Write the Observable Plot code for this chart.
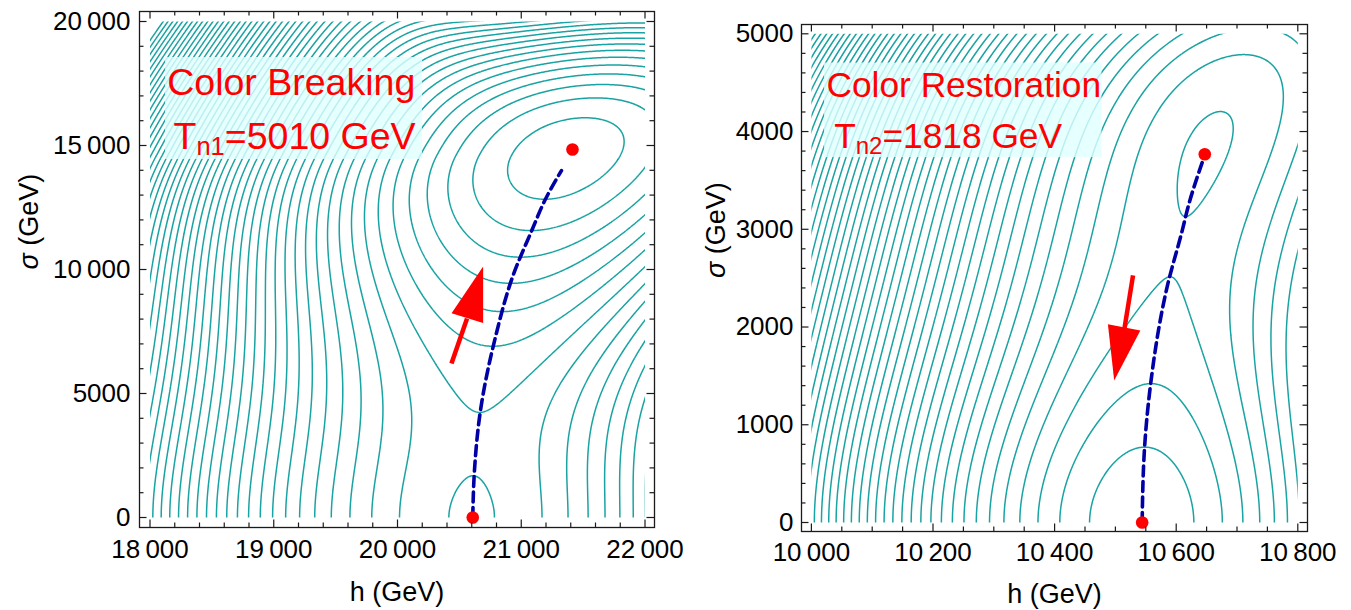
<!DOCTYPE html>
<html><head><meta charset="utf-8">
<script src="https://cdn.jsdelivr.net/npm/d3@7"></script>
<script src="https://cdn.jsdelivr.net/npm/@observablehq/plot@0.6"></script>
<style>
html,body{margin:0;padding:0;background:#fff;}
#wrap{position:relative;width:1351px;height:610px;overflow:hidden;background:#fff;}
#left{position:absolute;left:0;top:0;z-index:2;}
#right{position:absolute;left:680px;top:0;z-index:1;}
svg text{font-family:'Liberation Sans',Arial,Helvetica,sans-serif;}
</style></head><body><div id="wrap"><div id="left"></div><div id="right"></div></div>
<script>
// ---------------- data ----------------
// Left panel (Color Breaking)
const leftHDomain = [18000, 22000];
const leftSigmaDomain = [0, 20000];
const leftHTicks = [18000, 19000, 20000, 21000, 22000];
const leftSigmaTicks = [0, 5000, 10000, 15000, 20000];
const leftMinima = [{h: 20608, sigma: 0}, {h: 21414, sigma: 14840}];
const leftPath = [[20608, 0], [20622, 1900], [20670, 4300], [20785, 7140], [20940, 9840], [21085, 11570], [21190, 12780], [21325, 13990]];
const leftArrow = [{h1: 20436, s1: 6210, h2: 20562, s2: 8024, hTip: 20692, sTip: 10121, angle: 17}];
const leftBox = [{h1: 18125, h2: 20202, s1: 14435, s2: 18548}];
const leftTexts = [
  {h: 18139, sigma: 17056, text: "Color Breaking"},
  {h: 18190, sigma: 14879, text: "T_n1=5010 GeV"}
];
// left potential model (minimum positions / level spacing)
const leftCenter = [20600, 1000, 10000];        // h0, h unit, sigma unit
const leftShape = [0.357, 0.2977, 0.0478, 0.00372, 0.6]; // valley shear, curvature, cubic, quartic, decay
const leftProfile = [30, 0.31, 1.46];            // scale, saddle, second minimum (sigma units)
const leftWall = [-0.2, 0.35];
const leftLevels = d3.range(-6, 46).map(k => 0.114 + k);

// Right panel (Color Restoration)
const rightHDomain = [10000, 10800];
const rightSigmaDomain = [0, 5000];
const rightHTicks = [10000, 10200, 10400, 10600, 10800];
const rightSigmaTicks = [0, 1000, 2000, 3000, 4000, 5000];
const rightMinima = [{h: 10544, sigma: 0}, {h: 10647, sigma: 3767}];
const rightPath = [[10544, 0], [10548, 771], [10558, 1420], [10585, 2408], [10610, 2989], [10621, 3262], [10644, 3705]];
const rightArrow = [{h1: 10529, s1: 2528, h2: 10515, s2: 1988, hTip: 10498, sTip: 1453, angle: 190.6}];
const rightBox = [{h1: 10021.5, h2: 10478, s1: 3733, s2: 4701}];
const rightTexts = [
  {h: 10024.8, sigma: 4353, text: "Color Restoration"},
  {h: 10037.5, sigma: 3828, text: "T_n2=1818 GeV"}
];
const rightCenter = [10544, 100, 1000];
const rightShape = [0.0729, 1.05, 0.02];
const rightProfile = [0.312, 2.8, 3.8];
const rightLevels = d3.range(0, 47).map(k => 0.70 + k);

// ---------------- styles ----------------
const TEAL = "#1aa3a3";
const NAVY = "#0000a6";
const RED = "#ff0000";
const INK = "#1a1a1a";

function profile(s, K, a, b) {
  return K * (s ** 4 / 4 - (a + b) * s ** 3 / 3 + a * b * s * s / 2);
}
function leftField(h, sig) {
  const u = (h - leftCenter[0]) / leftCenter[1], s = Math.abs(sig) / leftCenter[2];
  const d = u - leftShape[0] * s * s;
  const e = Math.exp(-s * s / leftShape[4]);
  const Q = (d * d + e * (leftShape[2] * d ** 3 + leftShape[3] * d ** 4)) / leftShape[1];
  const [K, a, b] = leftProfile;
  let P;
  if (s <= b) P = profile(s, K, a, b);
  else {
    const w = 1 / (1 + Math.exp(-(u - leftWall[0]) / leftWall[1]));
    const pb = profile(b, K, a, b);
    P = pb + w * (profile(s, K, a, b) - pb);
  }
  return Q + P;
}
function rightField(h, sig) {
  const u = (h - rightCenter[0]) / rightCenter[1], s = Math.abs(sig) / rightCenter[2];
  const d = u - rightShape[0] * s * s;
  const Q = d * d * (1 + rightShape[2] * d) / rightShape[1];
  const [K, a, b] = rightProfile;
  return Q + profile(s, K, a, b);
}

function fmt(n) {
  return n >= 10000 ? d3.format(",")(n).replace(",", "\u2009") : String(n);
}
function headSymbol(angleDeg, L, W) {
  const t = angleDeg * Math.PI / 180;
  const vx = Math.sin(t), vy = -Math.cos(t);
  const nx = Math.cos(t), ny = Math.sin(t);
  return {
    draw(ctx) {
      ctx.moveTo(0, 0);
      ctx.lineTo(-L * vx + W * nx, -L * vy + W * ny);
      ctx.lineTo(-L * vx - W * nx, -L * vy - W * ny);
      ctx.closePath();
    }
  };
}

function panel(o) {
  const fw = o.width - o.ml - o.mr, fh = o.height - o.mt - o.mb;
  const minorX = d3.range(o.xDomain[0], o.xDomain[1] + 1e-6, o.minorXStep).filter(v => !o.xTicks.includes(v));
  const minorY = d3.range(o.yDomain[0], o.yDomain[1] + 1e-6, o.minorYStep).filter(v => !o.yTicks.includes(v));
  const tk = {stroke: INK, strokeWidth: 1.2};
  const ex = (o.xDomain[1] - o.xDomain[0]) * 0.015, ey = (o.yDomain[1] - o.yDomain[0]) * 0.015;
  const svg = Plot.plot({
    width: o.width, height: o.height,
    marginLeft: o.ml, marginRight: o.mr, marginTop: o.mt, marginBottom: o.mb,
    insetLeft: o.inset[0], insetRight: o.inset[1], insetTop: o.inset[2], insetBottom: o.inset[3],
    x: {domain: o.xDomain, axis: null},
    y: {domain: o.yDomain, axis: null},
    style: {fontFamily: "'Liberation Sans', Arial, sans-serif", background: "transparent", overflow: "visible"},
    marks: [
      Plot.contour({
        value: o.field,
        x1: o.xDomain[0] - ex, x2: o.xDomain[1] + ex, y1: o.yDomain[0] - ey, y2: o.yDomain[1] + ey,
        thresholds: o.levels, pixelSize: 1,
        fill: "none", stroke: TEAL, strokeWidth: 1.5
      }),
      Plot.rect(o.box, {x1: "h1", x2: "h2", y1: "s1", y2: "s2", fill: "#e0ffff", fillOpacity: 0.82}),
      Plot.line(o.path, {x: d => d[0], y: d => d[1], stroke: NAVY, strokeWidth: 3.6, strokeDasharray: "10,5.5", curve: "monotone-y"}),
      Plot.link(o.arrow, {x1: "h1", y1: "s1", x2: "h2", y2: "s2", stroke: RED, strokeWidth: 4.5}),
      Plot.dot(o.arrow, {x: "hTip", y: "sTip", symbol: headSymbol(o.arrow[0].angle, 54, 16.5), r: 10, fill: RED, stroke: "none"}),
      Plot.dot(o.minima, {x: "h", y: "sigma", r: 6.3, fill: RED, stroke: "none"}),
      Plot.text(o.texts, {x: "h", y: "sigma", text: "text", textAnchor: "start", lineAnchor: "bottom", fontSize: o.titleSize, fill: RED}),
      Plot.frame({stroke: INK, strokeWidth: 1.3}),
      // ticks on all four sides, pointing inward
      Plot.tickX(o.xTicks, {x: d => d, insetTop: fh - 7.5, ...tk}),
      Plot.tickX(o.xTicks, {x: d => d, insetBottom: fh - 7.5, ...tk}),
      Plot.tickX(minorX, {x: d => d, insetTop: fh - 4.5, ...tk}),
      Plot.tickX(minorX, {x: d => d, insetBottom: fh - 4.5, ...tk}),
      Plot.tickY(o.yTicks, {y: d => d, insetRight: fw - 7.5, ...tk}),
      Plot.tickY(o.yTicks, {y: d => d, insetLeft: fw - 7.5, ...tk}),
      Plot.tickY(minorY, {y: d => d, insetRight: fw - 4.5, ...tk}),
      Plot.tickY(minorY, {y: d => d, insetLeft: fw - 4.5, ...tk}),
      // tick labels
      Plot.text(o.xTicks, {x: d => d, frameAnchor: "bottom", dy: o.xLabelDy, text: fmt, fontSize: 26, fill: "#000", lineAnchor: "middle"}),
      Plot.text(o.yTicks, {y: d => d, frameAnchor: "left", dx: o.yLabelDx, text: fmt, fontSize: 26, fill: "#000", textAnchor: "end", lineAnchor: "middle"}),
      // axis titles
      Plot.text(["h (GeV)"], {frameAnchor: "bottom", dy: o.xTitleDy, text: d => d, fontSize: 27, fill: "#000", lineAnchor: "middle"}),
      Plot.text(["σ (GeV)"], {frameAnchor: "left", dx: o.yTitleDx, rotate: -90, text: d => d, fontSize: 27, fill: "#000", lineAnchor: "middle"})
    ]
  });
  // clip the contour lines to the data rectangle (no outline along the edges)
  const xs = svg.scale("x"), ys = svg.scale("y");
  const px0 = xs.apply(o.xDomain[0]), px1 = xs.apply(o.xDomain[1]);
  const py0 = ys.apply(o.yDomain[1]), py1 = ys.apply(o.yDomain[0]);
  const root = d3.select(svg);
  const cid = "clip-" + o.id;
  root.insert("defs", ":first-child").append("clipPath").attr("id", cid)
    .append("rect").attr("x", px0).attr("y", py0).attr("width", px1 - px0).attr("height", py1 - py0);
  root.selectAll('g[aria-label="contour"]').attr("clip-path", `url(#${cid})`);
  // rich text: italic sigma and subscripts
  root.selectAll("text").each(function () {
    const t = this.textContent;
    const sel = d3.select(this);
    if (t === "σ (GeV)") {
      sel.text(null);
      sel.append("tspan").attr("font-style", "italic").text("σ");
      sel.append("tspan").text(" (GeV)");
    }
    const m = /^T_(\w+)(=.*)$/.exec(t);
    if (m) {
      sel.text(null);
      sel.append("tspan").text("T");
      sel.append("tspan").attr("font-size", o.subSize).attr("dy", 6).text(m[1]);
      sel.append("tspan").attr("dy", -6).text(m[2]);
    }
  });
  return svg;
}

document.getElementById("left").appendChild(panel({
  id: "left", width: 680, height: 610, ml: 139, mr: 26, mt: 11, mb: 83,
  inset: [10.5, 9.5, 10, 10],
  xDomain: leftHDomain, yDomain: leftSigmaDomain,
  xTicks: leftHTicks, yTicks: leftSigmaTicks, minorXStep: 200, minorYStep: 1000,
  field: leftField, levels: leftLevels,
  box: leftBox, path: leftPath, arrow: leftArrow, minima: leftMinima, texts: leftTexts,
  titleSize: 37.5, subSize: 25.5,
  xLabelDy: 22, yLabelDx: -9, xTitleDy: 65, yTitleDx: -110
}));

document.getElementById("right").appendChild(panel({
  id: "right", width: 671, height: 610, ml: 121, mr: 44, mt: 24, mb: 79,
  inset: [9.9, 9.7, 9.3, 9],
  xDomain: rightHDomain, yDomain: rightSigmaDomain,
  xTicks: rightHTicks, yTicks: rightSigmaTicks, minorXStep: 50, minorYStep: 200,
  field: rightField, levels: rightLevels,
  box: rightBox, path: rightPath, arrow: rightArrow, minima: rightMinima, texts: rightTexts,
  titleSize: 35.3, subSize: 24,
  xLabelDy: 21, yLabelDx: -8, xTitleDy: 63, yTitleDx: -85
}));
</script></body></html>
